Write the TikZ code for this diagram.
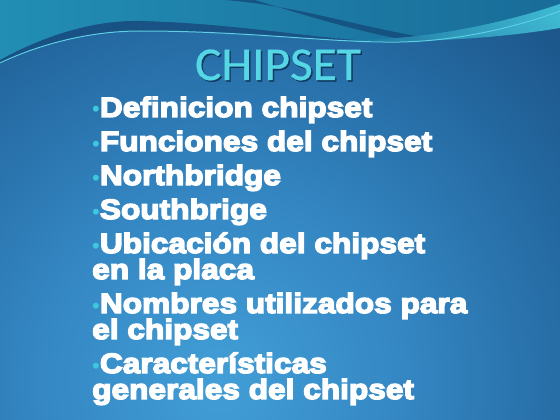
\documentclass[tikz,border=0pt]{standalone}
\usepackage{fontspec}
\newfontfamily\blk{Liberation Sans}[BoldFeatures={FakeStretch=1.13,FakeBold=5}]
\newfontfamily\ttl{Carlito}[FakeStretch=1.05,FakeBold=0.6]
\definecolor{bgA}{RGB}{66,158,214}
\definecolor{bgB}{RGB}{52,135,195}
\definecolor{bgC}{RGB}{35,102,158}
\definecolor{bgD}{RGB}{25,78,128}
\definecolor{bgE}{RGB}{14,50,88}
\definecolor{topL}{RGB}{34,142,180}
\definecolor{topR}{RGB}{24,108,152}
\definecolor{darkband}{RGB}{20,74,122}
\definecolor{glowL}{RGB}{28,110,155}
\definecolor{glowR}{RGB}{70,200,222}
\definecolor{linec}{RGB}{95,205,228}
\definecolor{titlec}{RGB}{85,215,230}
\definecolor{shadowc}{RGB}{8,40,70}
\definecolor{bulc}{RGB}{60,200,222}
\pgfdeclareradialshading{bgshade}{\pgfpoint{0bp}{0bp}}{color(0bp)=(bgA); color(8.5bp)=(bgB); color(17.7bp)=(bgC); color(24.8bp)=(bgD); color(35.4bp)=(bgE); color(50bp)=(bgE)}
\newcommand{\bul}{{\color{bulc}\mdseries\fontsize{22}{22}\selectfont\char"2022}}
\tikzset{
  itemtext/.style={anchor=base west, inner sep=0pt, text=white, font=\blk\bfseries\fontsize{28}{28}\selectfont},
  titletext/.style={anchor=base, inner sep=0pt, font=\ttl\fontsize{47}{47}\selectfont}
}
\begin{document}
\begin{tikzpicture}[x=1pt,y=-1pt]
\useasboundingbox (0,0) rectangle (560,420);
\begin{scope}
\clip (0,0) rectangle (560,420);
\fill[bgE] (0,0) rectangle (560,420);
\shade[shading=bgshade] (220,380) circle (540pt);
% teal top area
\shade[left color=topL, right color=topR] (0,0) -- (560,0) -- (560,20)
  .. controls (500,34) and (450,42) .. (400,42)
  .. controls (330,42) and (250,24) .. (140,21)
  .. controls (90,20) and (40,38) .. (0,60) -- cycle;
% dark band below boundary on left
\fill[darkband, opacity=0.7] (0,60) .. controls (40,38) and (90,20) .. (140,21)
  .. controls (250,24) and (330,42) .. (400,42)
  .. controls (330,44) and (250,31) .. (140,31)
  .. controls (90,31) and (40,44) .. (0,64) -- cycle;
% dark streak in the teal area
\fill[darkband, opacity=0.8] (225,0) .. controls (300,6) and (360,28) .. (440,40)
  -- (410,41) .. controls (350,30) and (295,12) .. (255,0) -- cycle;
% cyan glow at right
\shade[left color=glowL, right color=glowR, opacity=0.85] (330,40)
  .. controls (420,42) and (500,24) .. (560,4) -- (560,28)
  .. controls (500,38) and (420,44) .. (330,40) -- cycle;
% thin light line
\draw[linec, line width=1pt] (0,63) .. controls (40,44) and (90,31) .. (140,31)
  .. controls (250,31) and (330,43) .. (400,42)
  .. controls (460,41) and (520,26) .. (560,11);
\end{scope}
% title
\node[titletext, text=shadowc, opacity=0.7] (tshadow) at (279.5,81.5) {CHIPSET};
\node[titletext, text=titlec] (title) at (278,80) {CHIPSET};
% bullet items
\node[itemtext] (i1) at (92,117) {\bul Definicion chipset};
\node[itemtext] (i2) at (92,151) {\bul Funciones del chipset};
\node[itemtext] (i3) at (92,185) {\bul Northbridge};
\node[itemtext] (i4) at (92,219) {\bul Southbrige};
\node[itemtext] (i5) at (92,253) {\bul Ubicación del chipset};
\node[itemtext] (i5b) at (92,279) {en la placa};
\node[itemtext] (i6) at (92,313) {\bul Nombres utilizados para};
\node[itemtext] (i6b) at (92,339) {el chipset};
\node[itemtext] (i7) at (92,373) {\bul Características};
\node[itemtext] (i7b) at (92,399) {generales del chipset};
\end{tikzpicture}
\end{document}
